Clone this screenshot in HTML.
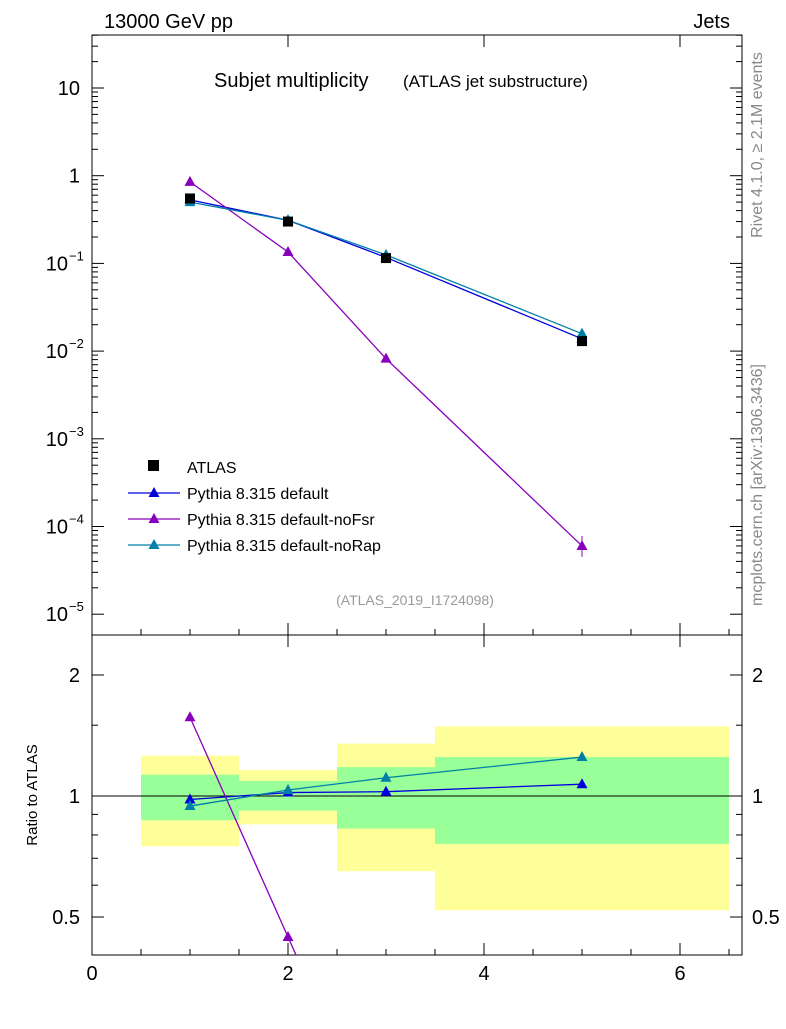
<!DOCTYPE html>
<html><head><meta charset="utf-8"><style>
body{margin:0;background:#fff;width:786px;height:1024px;overflow:hidden}
svg text{font-family:"Liberation Sans",sans-serif}
</style></head><body>
<svg id="c" width="786" height="1024"></svg>
<script>
const cats=[1,2,3,5];
const atlas=[0.55,0.30,0.115,0.013];
const pdef=[0.53,0.31,0.117,0.0138];
const pnofsr=[0.85,0.135,0.0082,0.00006];
const pnorap=[0.50,0.31,0.125,0.0158];
const rdef=[0.98,1.02,1.025,1.07];
const rnofsr=[1.57,0.446];
const rnorap=[0.944,1.035,1.11,1.25];
const binLo=[0.5,1.5,2.5,3.5];
const binHi=[1.5,2.5,3.5,6.5];
const yelLo=[0.75,0.85,0.65,0.52];
const yelHi=[1.26,1.16,1.35,1.49];
const grnLo=[0.87,0.92,0.83,0.76];
const grnHi=[1.13,1.09,1.18,1.25];
const xTicks=[0,2,4,6];
const yTicks=[-5,-4,-3,-2,-1,0,1];
const rTicks=[0.5,1,2];

const NS="http://www.w3.org/2000/svg",svg=document.getElementById('c');
const L=92,R=742,T1=35,B1=635,B2=955;
const X=v=>L+v*98;
const Y=v=>88-(Math.log10(v)-1)*87.7;
const YR=v=>796-Math.log10(v)*402;
function el(t,a,p){const e=document.createElementNS(NS,t);for(const k in a)e.setAttribute(k,a[k]);(p||svg).appendChild(e);return e}
function tx(x,y,s,o,p){const e=el('text',Object.assign({x:x,y:y,'font-size':20},o||{}),p);e.textContent=s;return e}
const gr=el('g',{});
binLo.forEach((b,i)=>{
 const y=el('rect',{x:X(b),y:YR(yelHi[i]),width:X(binHi[i])-X(b),height:YR(yelLo[i])-YR(yelHi[i]),fill:'#ffff99'},gr);
 
 const g=el('rect',{x:X(b),y:YR(grnHi[i]),width:X(binHi[i])-X(b),height:YR(grnLo[i])-YR(grnHi[i]),fill:'#99ff99'},gr);
 
});
el('line',{x1:L,x2:R,y1:YR(1),y2:YR(1),stroke:'#000','stroke-width':1});
el('rect',{x:L,y:T1,width:R-L,height:B1-T1,fill:'none',stroke:'#000'});
el('rect',{x:L,y:B1,width:R-L,height:B2-B1,fill:'none',stroke:'#000'});
xTicks.forEach(v=>{
 [[T1,B1],[B1,B2]].forEach(([a,b])=>{el('line',{x1:X(v),x2:X(v),y1:b,y2:b-12,stroke:'#000'});el('line',{x1:X(v),x2:X(v),y1:a,y2:a+12,stroke:'#000'});});
 const t=tx(X(v),980,String(v),{'text-anchor':'middle'});
});
for(let v=0.5;v<6.7;v+=0.5){if(v%2)[B1,B2].forEach(b=>{el('line',{x1:X(v),x2:X(v),y1:b,y2:b-6,stroke:'#000'})});}
yTicks.forEach(e=>{
 const y=Y(Math.pow(10,e));
 el('line',{x1:L,x2:L+12,y1:y,y2:y,stroke:'#000'});el('line',{x1:R,x2:R-12,y1:y,y2:y,stroke:'#000'});
 for(let k=2;k<10;k++){const yy=Y(k*Math.pow(10,e));if(yy>T1){el('line',{x1:L,x2:L+6,y1:yy,y2:yy,stroke:'#000'});el('line',{x1:R,x2:R-6,y1:yy,y2:yy,stroke:'#000'});}}
 let t;
 if(e==0)t=tx(80,y+7,'1',{'text-anchor':'end'});
 else if(e==1)t=tx(80,y+7,'10',{'text-anchor':'end'});
 else{t=tx(68,y+7,'10',{'text-anchor':'end'});tx(69,y-3,'−'+String(-e),{'font-size':13});}
 
});
rTicks.forEach(v=>{
 const y=YR(v);
 el('line',{x1:L,x2:L+12,y1:y,y2:y,stroke:'#000'});el('line',{x1:R,x2:R-12,y1:y,y2:y,stroke:'#000'});
 tx(80,y+7,String(v),{'text-anchor':'end'});tx(752,y+7,String(v));
});
[0.6,0.7,0.8,0.9,1.5].forEach(v=>{const y=YR(v);el('line',{x1:L,x2:L+6,y1:y,y2:y,stroke:'#000'});el('line',{x1:R,x2:R-6,y1:y,y2:y,stroke:'#000'});});
function series(xs,ys,yf,col,name,tri){
 const g=el('g',{});
 const pts=xs.slice(0,ys.length).map((x,i)=>[X(x),yf(ys[i])]);
 if(!tri){pts.forEach(p=>el('rect',{x:p[0]-5,y:p[1]-5,width:10,height:10,fill:'#000'},g));return}
 el('polyline',{points:pts.map(p=>p.join(',')).join(' '),fill:'none',stroke:col,'stroke-width':1.3},g);
 pts.forEach(p=>el('polygon',{points:`${p[0]},${p[1]-6} ${p[0]-5.5},${p[1]+4} ${p[0]+5.5},${p[1]+4}`,fill:col},g));
}
series(cats,pdef,Y,'#0000dd','series-default',1);
series(cats,pnofsr,Y,'#8800bb','series-nofsr',1);
series(cats,pnorap,Y,'#0080a8','series-norap',1);
series(cats,atlas,Y,'#000','series-atlas',0);
el('line',{x1:X(5),x2:X(5),y1:Y(4.5e-5),y2:Y(7.8e-5),stroke:'#8800bb'});
const clip=el('clipPath',{id:'cp'});el('rect',{x:L,y:B1,width:R-L,height:B2-B1},clip);
const rg=el('g',{'clip-path':'url(#cp)'});
function rs(ys,col,name){const g=el('g',{},rg);
 const pts=cats.slice(0,ys.length).map((x,i)=>[X(x),YR(ys[i])]);
 let p2=pts;if(ys.length==2){const sl=(pts[1][1]-pts[0][1])/(pts[1][0]-pts[0][0]);p2=pts.concat([[pts[1][0]+(B2+20-pts[1][1])/sl,B2+20]]);}
 el('polyline',{points:p2.map(p=>p.join(',')).join(' '),fill:'none',stroke:col,'stroke-width':1.3},g);
 pts.forEach(p=>el('polygon',{points:`${p[0]},${p[1]-6} ${p[0]-5.5},${p[1]+4} ${p[0]+5.5},${p[1]+4}`,fill:col},g));}
rs(rdef,'#0000dd','ratio-default');rs(rnofsr,'#8800bb','ratio-nofsr');rs(rnorap,'#0080a8','ratio-norap');
tx(104,28,'13000 GeV pp');
tx(730,28,'Jets',{'text-anchor':'end'});
tx(214,87,'Subjet multiplicity');
tx(403,87,'(ATLAS jet substructure)',{'font-size':17});
tx(415,605,'(ATLAS_2019_I1724098)',{'font-size':14,fill:'#999','text-anchor':'middle'});
tx(762,145,'Rivet 4.1.0, ≥ 2.1M events',{'font-size':16,fill:'#888','text-anchor':'middle',transform:'rotate(-90 762 145)'});
tx(762,485,'mcplots.cern.ch [arXiv:1306.3436]',{'font-size':16,fill:'#888','text-anchor':'middle',transform:'rotate(-90 762 485)'});
tx(37,795,'Ratio to ATLAS',{'font-size':15,'text-anchor':'middle',transform:'rotate(-90 37 795)'});
const lg=el('g',{});
el('rect',{x:148,y:460,width:11,height:11,fill:'#000'},lg);tx(187,473,'ATLAS',{'font-size':16},lg);
[['Pythia 8.315 default','#0000dd',499],['Pythia 8.315 default-noFsr','#8800bb',525],['Pythia 8.315 default-noRap','#0080a8',551]].forEach(([n,c,y])=>{
 el('line',{x1:128,x2:180,y1:y-6,y2:y-6,stroke:c,'stroke-width':1.3},lg);
 el('polygon',{points:`154,${y-12} 148.5,${y-2} 159.5,${y-2}`,fill:c},lg);
 tx(187,y,n,{'font-size':16},lg);
});
</script>
</body></html>
